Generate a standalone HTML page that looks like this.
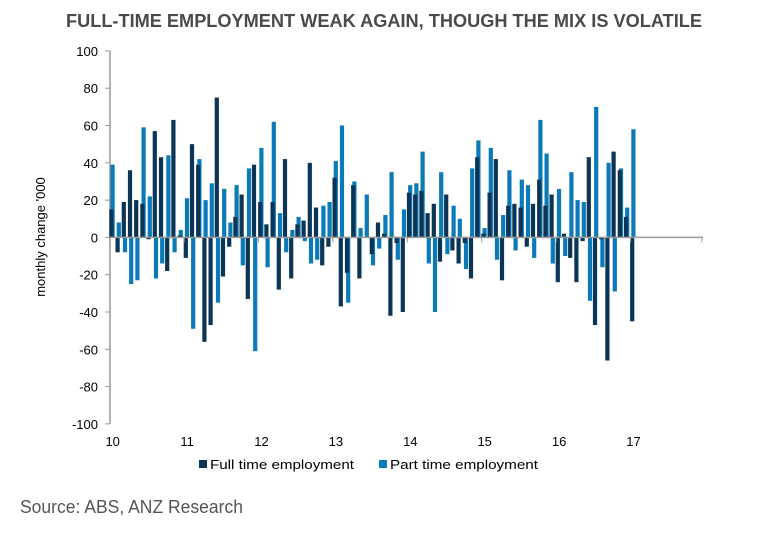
<!DOCTYPE html>
<html><head><meta charset="utf-8"><style>
body{margin:0;background:#fff;width:768px;height:535px;overflow:hidden;font-family:"Liberation Sans",sans-serif}
</style></head><body>
<svg id="chart" width="768" height="535" xmlns="http://www.w3.org/2000/svg">
<text x="384" y="27" text-anchor="middle" font-family="Liberation Sans, sans-serif" font-weight="bold" font-size="18" fill="#4a4a4a" textLength="636" lengthAdjust="spacingAndGlyphs">FULL-TIME EMPLOYMENT WEAK AGAIN, THOUGH THE MIX IS VOLATILE</text>
<text transform="translate(45,237) rotate(-90)" text-anchor="middle" font-size="13" fill="#000">monthly change '000</text>
<g id="axes"></g>
<g id="bars"></g>
<g>
<rect x="199" y="460" width="8" height="8" fill="#0a3557"/>
<text x="210" y="469" font-size="13" fill="#000" textLength="144" lengthAdjust="spacingAndGlyphs">Full time employment</text>
<rect x="379" y="460" width="8" height="8" fill="#0a7ab8"/>
<text x="390" y="469" font-size="13" fill="#000" textLength="148" lengthAdjust="spacingAndGlyphs">Part time employment</text>
</g>
<text x="20" y="513" font-size="18" fill="#555" textLength="223" lengthAdjust="spacingAndGlyphs">Source: ABS, ANZ Research</text>
</svg>
<script>
const yTicks=[100,80,60,40,20,0,-20,-40,-60,-80,-100];
const xYears=[10,11,12,13,14,15,16,17];
const fullTime=[15,-8,19,36,20,18,-1,57,43,-18,63,1,-11,50,39,-56,-47,75,-21,-5,11,23,-33,39,
19,7,19,-28,42,-22,7,9,40,16,-15,-5,32,-37,-19,28,-22,0,-9,8,2,-42,-3,-40,
24,23,25,13,18,-13,23,-7,-14,-3,-22,43,2,24,42,-23,17,18,16,-5,18,31,17,23,
-24,2,-11,-24,-2,43,-47,-1,-66,46,36,11,-45];
const partTime=[39,8,-8,-25,-23,59,22,-22,-14,44,-8,4,21,-49,42,20,29,-35,26,8,28,-15,37,-61,
48,-16,62,13,-8,4,11,-2,-14,-12,17,19,41,60,-35,30,5,23,-15,-6,12,35,-12,15,
28,29,46,-14,-40,35,-9,17,10,-17,37,52,5,48,-12,12,36,-7,31,28,-11,63,45,-14,
26,-10,35,20,19,-34,70,-16,40,-29,37,16,58];
const NS="http://www.w3.org/2000/svg";
const X0=111.7,PX_YEAR=74.4,Y0=237.4,PX_UNIT=1.865;
function xScale(month){return X0+month*PX_YEAR/12;}
function yScale(v){return Y0-v*PX_UNIT;}
function mk(tag,attrs,parent){const e=document.createElementNS(NS,tag);for(const k in attrs)e.setAttribute(k,attrs[k]);parent.appendChild(e);return e;}
const axes=document.getElementById('axes'),bars=document.getElementById('bars');
const yAxis=mk('line',{x1:110,x2:110,y1:yScale(100),y2:yScale(-100),stroke:'#999','stroke-width':1.5},axes);


yTicks.forEach(t=>{
  const tk=mk('line',{x1:105,x2:110,y1:yScale(t),y2:yScale(t),stroke:'#999'},axes);
  
  
  const lb=mk('text',{x:98,y:yScale(t)+5,'text-anchor':'end','font-size':13,fill:'#000'},axes);
  lb.textContent=t;
  
  
});
const totalMonths=fullTime.length;
for(let i=0;i<totalMonths;i++){
  const x=xScale(i);
  const p=partTime[i],f=fullTime[i];
  const pb=mk('rect',{x:x-1.2,y:Math.min(yScale(p),Y0),width:4.2,height:Math.abs(yScale(p)-Y0),fill:'#0a7ab8'},bars);
  
  
  const fb=mk('rect',{x:x-2.4,y:Math.min(yScale(f),Y0),width:4.2,height:Math.abs(yScale(f)-Y0),fill:'#0a3557'},bars);
  
  
}
const xAxis=mk('line',{x1:110,x2:703,y1:Y0,y2:Y0,stroke:'#999','stroke-width':1.5},bars);


xYears.forEach((yr,k)=>{
  const x=xScale(k*12)-2;
  const tk=mk('line',{x1:x,x2:x,y1:Y0,y2:Y0+5,stroke:'#999'},bars);
  
  
  const lb=mk('text',{x:xScale(k*12)+1,y:446,'text-anchor':'middle','font-size':13,fill:'#000'},axes);
  lb.textContent=yr;
  
  
});
const endTk=mk('line',{x1:702,x2:702,y1:Y0,y2:Y0+5,stroke:'#999'},bars);


</script>
</body></html>
